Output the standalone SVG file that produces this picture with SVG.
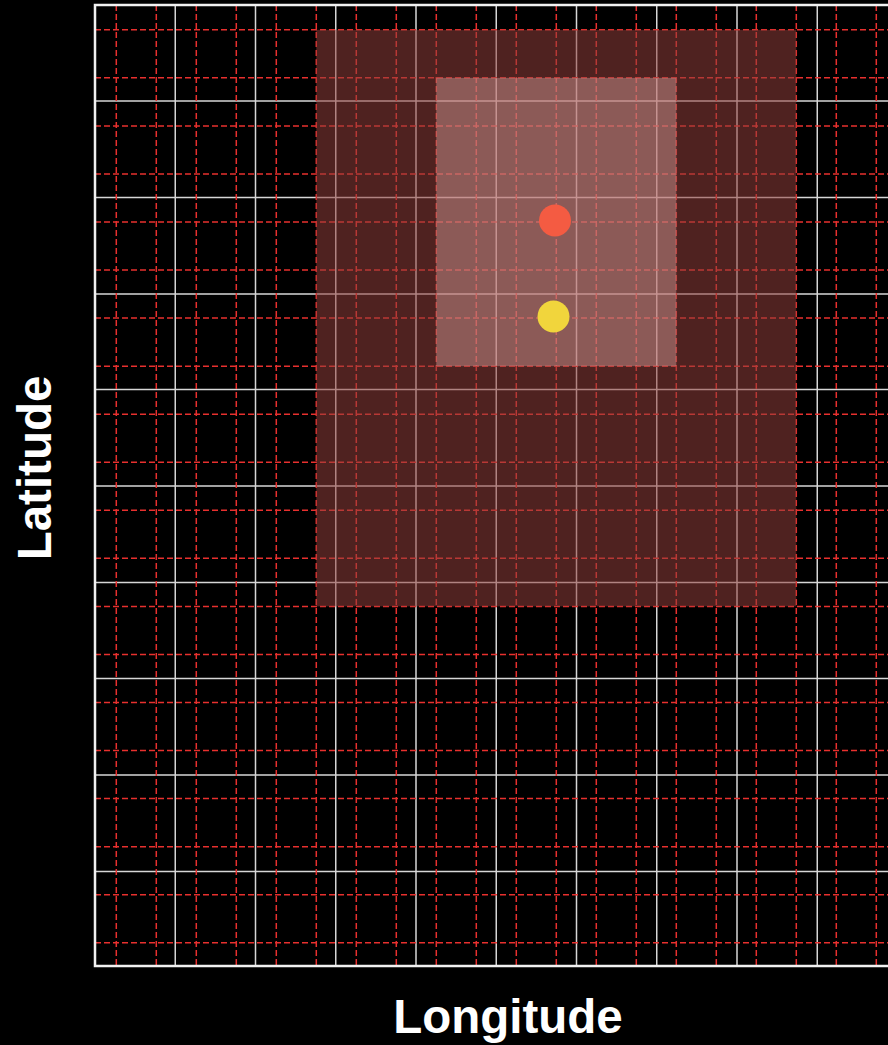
<svg xmlns="http://www.w3.org/2000/svg" width="888" height="1045" viewBox="0 0 888 1045">
<style>
.wg{stroke:#d6d6d6;stroke-width:1.5;fill:none}
.rg{stroke:#e8302e;stroke-width:1.5;stroke-dasharray:6 3;fill:none}
.lbl{font-family:"Liberation Sans",Arial,sans-serif;font-weight:bold;font-size:47.5px;fill:#ffffff;text-anchor:middle}
</style>
<rect x="0" y="0" width="888" height="1045" fill="#000"/>
<g id="white-grid" class="wg">
<path d="M175.25 5V966M255.5 5V966M335.75 5V966M416 5V966M496.25 5V966M576.5 5V966M656.75 5V966M737 5V966M817.25 5V966"/>
<path d="M95 101H897M95 197.5H897M95 294H897M95 389.5H897M95 486H897M95 582.5H897M95 678.5H897M95 775H897M95 871.5H897"/>
</g>
<g id="red-grid" class="rg">
<path d="M116.3 5V966M156.3 5V966M196.3 5V966M236.3 5V966M276.3 5V966M316.3 5V966M356.3 5V966M396.3 5V966M436.3 5V966M476.3 5V966M516.3 5V966M556.3 5V966M596.3 5V966M636.3 5V966M676.3 5V966M716.3 5V966M756.3 5V966M796.3 5V966M836.3 5V966M876.3 5V966"/>
<path d="M95 29.8H897M95 77.85H897M95 125.9H897M95 173.95H897M95 222H897M95 270.05H897M95 318.1H897M95 366.15H897M95 414.2H897M95 462.25H897M95 510.3H897M95 558.35H897M95 606.4H897M95 654.45H897M95 702.5H897M95 750.55H897M95 798.6H897M95 846.65H897M95 894.7H897M95 942.75H897"/>
</g>
<rect id="frame" x="95" y="5" width="802" height="961" fill="none" stroke="#f2f2f2" stroke-width="2.5"/>
<g id="outer-region">
<rect x="316.3" y="29.8" width="480" height="576.6" fill="rgb(146,63,59)" fill-opacity="0.54"/>
</g>
<g id="inner-region">
<rect x="436.3" y="77.85" width="240" height="288.3" fill="rgb(228,171,168)" fill-opacity="0.41"/>
</g>
<g id="point-red"><circle cx="555" cy="220.5" r="16" fill="#f45b42"/></g>
<g id="point-yellow"><circle cx="553.5" cy="316.5" r="16" fill="#f1d53c"/></g>
<g id="x-label"><text class="lbl" x="508" y="1033">Longitude</text></g>
<g id="y-label"><text class="lbl" transform="translate(51,468) rotate(-90)">Latitude</text></g>
</svg>
